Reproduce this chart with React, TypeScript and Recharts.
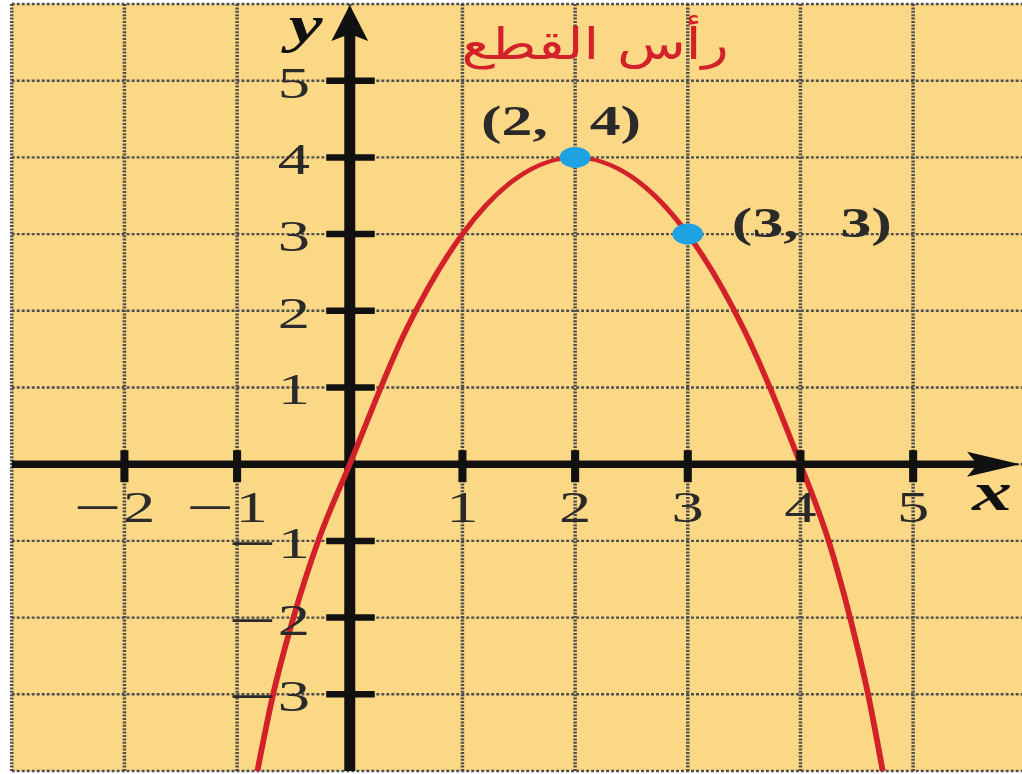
import React from "react";
import {
  ComposedChart,
  Line,
  Scatter,
  XAxis,
  YAxis,
  CartesianGrid,
  ReferenceLine,
  ReferenceDot,
} from "recharts";

// parabola y = -x² + 4x, sampled along the drawn curve
const curveX = [-0.82, -0.68, -0.5, -0.28, 0, 0.5, 1, 1.5, 2, 2.5, 3, 3.5, 4, 4.25, 4.44, 4.6, 4.73];
const curveY = [-4, -3, -2, -1, 0, 1.75, 3, 3.75, 4, 3.75, 3, 1.75, 0, -1, -2, -3, -4];

// marked points
const pointX = [2, 3];
const pointY = [4, 3];
const pointLabels = ["(2, 4)", "(3, 3)"];
const vertexNote = "رأس القطع";

// grid and axis ticks
const gridX = [-3, -2, -1, 0, 1, 2, 3, 4, 5, 6];
const gridY = [-4, -3, -2, -1, 0, 1, 2, 3, 4, 5, 6];
const xTickValues = [-2, -1, 1, 2, 3, 4, 5];
const yTickValues = [-3, -2, -1, 1, 2, 3, 4, 5];

const curveData = curveX.map((x, i) => ({ x, y: curveY[i] }));
const pointData = pointX.map((x, i) => ({ x, y: pointY[i], label: pointLabels[i] }));

// the whole figure is drawn on a square grid and then widened
const STRETCH = 1.469;
const WIDTH = 700;
const HEIGHT = 774;

const INK = "#111";
const LABEL_INK = "#2a2a2a";
const RED = "#d3212a";
const BLUE = "#1fa2e4";
const PAPER = "#fbd886";
const SERIF = '"Liberation Serif", "Times New Roman", serif';

const ARROW_LEN = 36;
const ARROW_HALF = 12.5;
const ARROW_NOTCH = 7;
const AXIS_W = 7.5;

// tick number with a long minus sign, kept level with the digit's middle
const TickNumber = ({ v }: { v: number }) =>
  v < 0 ? (
    <>
      <tspan fontSize={58} dy={5}>{"\u2212"}</tspan>
      <tspan dx={1} dy={-5}>{Math.abs(v)}</tspan>
    </>
  ) : (
    <>{v}</>
  );

const XAxisArrow = (p: any) => {
  const left = Math.min(p.x1, p.x2);
  const tip = Math.max(p.x1, p.x2) - 4;
  const back = tip - ARROW_LEN;
  const y = p.y1;
  return (
    <g>
      <line x1={left} y1={y} x2={back + ARROW_NOTCH} y2={y} stroke={INK} strokeWidth={AXIS_W} />
      <path
        d={`M${tip},${y} L${back},${y - ARROW_HALF} L${back + ARROW_NOTCH},${y} L${back},${y + ARROW_HALF} Z`}
        fill={INK}
      />
      <text x={tip - 19} y={y + 46} textAnchor="middle" fontFamily={SERIF} fontSize={54}
        fontStyle="italic" fontWeight="bold" fill={INK}>x</text>
    </g>
  );
};

const YAxisArrow = (p: any) => {
  const bottom = Math.max(p.y1, p.y2);
  const tip = Math.min(p.y1, p.y2) + 1;
  const back = tip + ARROW_LEN;
  const x = p.x1;
  return (
    <g>
      <line x1={x} y1={bottom} x2={x} y2={back - ARROW_NOTCH} stroke={INK} strokeWidth={AXIS_W} />
      <path
        d={`M${x},${tip} L${x - ARROW_HALF},${back} L${x},${back - ARROW_NOTCH} L${x + ARROW_HALF},${back} Z`}
        fill={INK}
      />
      <text x={x - 30} y={tip + 37} textAnchor="middle" fontFamily={SERIF} fontSize={52}
        fontStyle="italic" fontWeight="bold" fill={INK}>y</text>
    </g>
  );
};

const xTick = (v: number) => (p: any) => {
  const { cx, cy } = p;
  const neg = v < 0;
  return (
    <g>
      <line x1={cx} y1={cy - 14} x2={cx} y2={cy + 18} stroke={INK} strokeWidth={5.5} />
      <text x={neg ? cx + 21 : cx} y={cy + 58} textAnchor={neg ? "end" : "middle"}
        fontFamily={SERIF} fontSize={44} fill={LABEL_INK}><TickNumber v={v} /></text>
    </g>
  );
};

const yTick = (v: number) => (p: any) => {
  const { cx, cy } = p;
  return (
    <g>
      <line x1={cx - 16} y1={cy} x2={cx + 17} y2={cy} stroke={INK} strokeWidth={6.5} />
      <text x={cx - 27} y={cy + 17} textAnchor="end" fontFamily={SERIF} fontSize={44}
        fill={LABEL_INK}><TickNumber v={v} /></text>
    </g>
  );
};

// where each point's coordinate label sits relative to its dot
const labelPlacement = [
  { dx: -64, dy: -22 },
  { dx: 30, dy: 3 },
];

const PointMark = (p: any) => {
  const { cx, cy, payload } = p;
  const i = pointLabels.indexOf(payload?.label);
  const place = labelPlacement[i] ?? labelPlacement[0];
  return (
    <g>
      <circle cx={cx} cy={cy} r={10.5} fill={BLUE} />
      <text x={cx + place.dx} y={cy + place.dy} fontFamily={SERIF} fontSize={42}
        fontWeight="bold" fill={LABEL_INK} wordSpacing={18}>{payload?.label}</text>
      {i === 0 && (
        <text x={cx + 13.6} y={cy - 98} textAnchor="middle" fontFamily='"DejaVu Sans", sans-serif'
          fontSize={44} fill={RED} textLength={182} lengthAdjust="spacingAndGlyphs">{vertexNote}</text>
      )}
    </g>
  );
};

export default function App() {
  return (
    <div style={{ position: "absolute", left: 0, top: 0, width: 1022, height: 774, overflow: "hidden", background: "#fff" }}>
      <div style={{ width: WIDTH, height: HEIGHT, transform: `scaleX(${STRETCH})`, transformOrigin: "0 0" }}>
        <ComposedChart width={WIDTH} height={HEIGHT} margin={{ top: 4, right: 1.7, bottom: 3, left: 8 }}>
          <CartesianGrid stroke="#4e4e4e" strokeWidth={2.4} strokeDasharray="2 1.4" fill={PAPER} fillOpacity={1} />
          <XAxis type="number" dataKey="x" domain={[-3, 6]} ticks={gridX} hide />
          <YAxis type="number" dataKey="y" domain={[-4, 6]} ticks={gridY} hide />
          <ReferenceLine y={0} shape={XAxisArrow} />
          <ReferenceLine x={0} shape={YAxisArrow} />
          {xTickValues.map((v) => (
            <ReferenceDot key={`xt${v}`} x={v} y={0} shape={xTick(v)} />
          ))}
          {yTickValues.map((v) => (
            <ReferenceDot key={`yt${v}`} x={0} y={v} shape={yTick(v)} />
          ))}
          <Line data={curveData} dataKey="y" type="monotone" stroke={RED} strokeWidth={4}
            dot={false} activeDot={false} isAnimationActive={false} />
          <Scatter data={pointData} dataKey="y" shape={PointMark} isAnimationActive={false} />
        </ComposedChart>
      </div>
    </div>
  );
}
